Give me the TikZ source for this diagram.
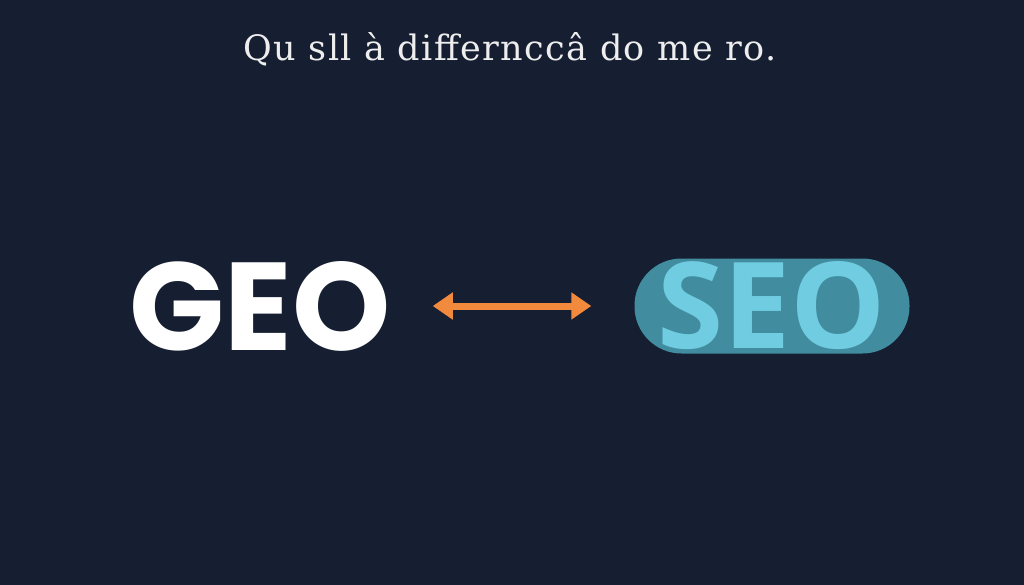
\documentclass[tikz,border=0pt]{standalone}
\usepackage{fontspec}
\usepackage{tikz}
\usetikzlibrary{arrows.meta, positioning}
\setmainfont{DejaVu Serif}
\newfontfamily\titlefont[LetterSpace=4]{DejaVu Serif}
\newfontfamily\wordfont{Poppins}
\newfontfamily\seofont{Open Sans}
\definecolor{bgnavy}{HTML}{161E31}
\definecolor{arroworange}{HTML}{F28A3D}
\definecolor{pillteal}{HTML}{418C9F}
\definecolor{seocyan}{HTML}{70CCE0}
\definecolor{titlegray}{HTML}{EEEEEE}
\tikzset{x=1pt, y=-1pt, % one unit is one pixel of the picture
title/.style={ % The line of text at the top
text=titlegray, anchor=base,
font=\titlefont\fontsize{35}{35}\selectfont},
word/.style={ % The big words
inner sep=0pt,
font=\wordfont\bfseries\fontsize{125}{125}\selectfont},
pill/.style={ % Rounded box behind SEO
inner sep=0pt, fill=pillteal, text=seocyan,
font=\seofont\bfseries\fontsize{120}{120}\selectfont,
rounded corners=47pt,
minimum width=275pt, minimum height=95pt},
link/.style={ % The two-way arrow
draw=arroworange, line width=7pt,
{Triangle[width=26pt,length=20pt]}-{Triangle[width=26pt,length=20pt]},
shorten <=42pt, shorten >=43pt}}

\begin{document}
\begin{tikzpicture}

    \fill[bgnavy] (0,0) rectangle (1024,585);
    \useasboundingbox (0,0) rectangle (1024,585);

    \node[title] (top) at (510,61) {Qu sll à differnccâ do me ro.};

    \node[word, text=white] (geo) at (260,306) {GEO};
    \node[pill] (seo) at (772,306) {SEO};

    \draw[link] (geo) -- (seo);

\end{tikzpicture}
\end{document}
